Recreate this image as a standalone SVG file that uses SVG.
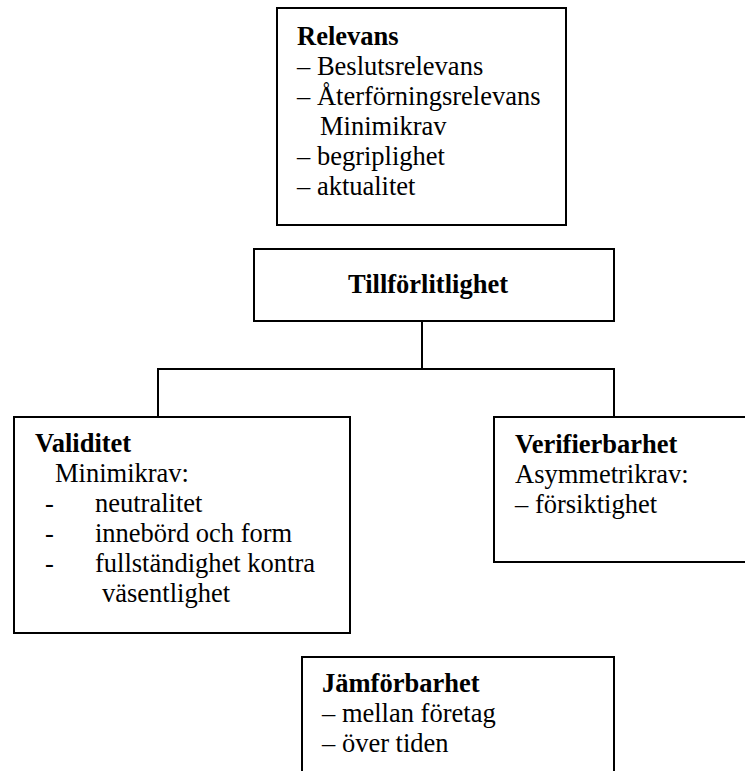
<svg xmlns="http://www.w3.org/2000/svg" width="745" height="771" viewBox="0 0 745 771">
<style>
.box{fill:#fff;stroke:#000;stroke-width:2}
.ln{stroke:#000;stroke-width:2;fill:none}
text{font-family:"Liberation Serif","Times New Roman",serif;font-size:26.5px;fill:#000}
.b{font-weight:bold}
</style>
<rect width="745" height="771" fill="#fff"/>
<g id="connectors">
<line class="ln" x1="422" y1="321" x2="422" y2="369"/>
<line class="ln" x1="157" y1="369" x2="615" y2="369"/>
<line class="ln" x1="158" y1="369" x2="158" y2="417"/>
<line class="ln" x1="614" y1="369" x2="614" y2="417"/>
</g>
<g id="relevans">
<rect class="box" x="277" y="8" width="289" height="217"/>
<text class="b" x="297" y="45">Relevans</text>
<text x="297" y="75">– Beslutsrelevans</text>
<text x="297" y="105">– Återförningsrelevans</text>
<text x="320" y="135">Minimikrav</text>
<text x="297" y="165">– begriplighet</text>
<text x="297" y="195">– aktualitet</text>
</g>
<g id="tillforlitlighet">
<rect class="box" x="254" y="249" width="360" height="72"/>
<text class="b" x="348" y="293">Tillförlitlighet</text>
</g>
<g id="validitet">
<rect class="box" x="14" y="417" width="336" height="216"/>
<text class="b" x="35" y="452">Validitet</text>
<text x="55" y="482">Minimikrav:</text>
<text x="45" y="512">-</text>
<text x="95" y="512">neutralitet</text>
<text x="45" y="542">-</text>
<text x="95" y="542">innebörd och form</text>
<text x="45" y="572">-</text>
<text x="95" y="572">fullständighet kontra</text>
<text x="102" y="602">väsentlighet</text>
</g>
<g id="verifierbarhet">
<rect class="box" x="494" y="417" width="260" height="145"/>
<text class="b" x="515" y="453">Verifierbarhet</text>
<text x="515" y="483">Asymmetrikrav:</text>
<text x="515" y="513">– försiktighet</text>
</g>
<g id="jamforbarhet">
<rect class="box" x="302" y="657" width="312" height="125"/>
<text class="b" x="322" y="692">Jämförbarhet</text>
<text x="322" y="722">– mellan företag</text>
<text x="322" y="752">– över tiden</text>
</g>
</svg>
